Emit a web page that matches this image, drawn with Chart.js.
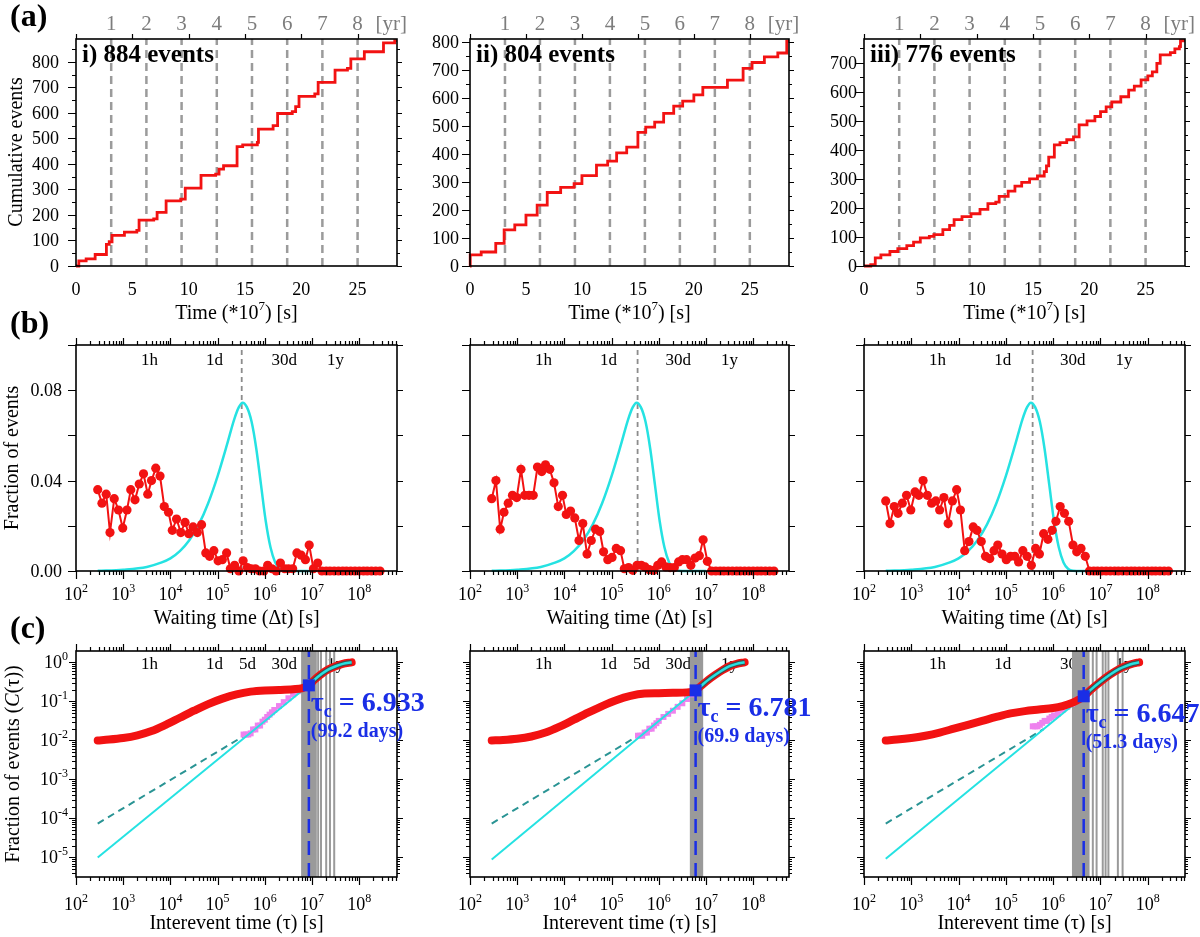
<!DOCTYPE html>
<html>
<head>
<meta charset="utf-8">
<script src="https://cdn.jsdelivr.net/npm/chart.js@4.4.1/dist/chart.umd.min.js"></script>
<style>
  html, body { margin: 0; padding: 0; background: #fff; }
  #fig { position: relative; width: 1200px; height: 937px; overflow: hidden; }
  #fig canvas { position: absolute; left: 0; top: 0; }
</style>
</head>
<body>
<div id="fig"></div>
<script>
// ---------- (a) cumulative events, time in 1e7 s ----------
const cumTime1 = [0, 0.25, 0.9, 1.7, 2.7, 2.95, 3.2, 4.3, 5.4, 5.6, 6.9, 7.2, 8.0, 9.3, 9.7, 11.1, 12.4, 12.7, 13.1, 14.3, 14.8, 16.1, 16.2, 17.5, 17.9, 19.2, 19.5, 19.8, 21.2, 21.5, 23.0, 24.1, 24.4, 25.6, 27.3, 28.3, 28.5];
const cumCount1 = [0, 20, 28, 45, 85, 95, 120, 133, 140, 180, 185, 210, 255, 262, 305, 355, 360, 380, 393, 468, 475, 485, 537, 550, 598, 605, 625, 665, 675, 720, 768, 775, 812, 840, 875, 884, 884];
const cumTime2 = [0, 0.02, 1.0, 2.3, 3.05, 4.0, 5.0, 6.0, 6.9, 8.1, 9.3, 10.0, 11.3, 12.3, 13.1, 14.0, 15.0, 15.7, 16.5, 17.3, 18.2, 19.0, 20.0, 20.8, 23.0, 24.4, 25.2, 26.3, 27.5, 28.3, 28.5];
const cumCount2 = [0, 40, 50, 81, 129, 147, 182, 218, 263, 281, 295, 323, 361, 375, 405, 425, 478, 497, 515, 546, 572, 590, 612, 639, 665, 707, 728, 748, 762, 804, 804];
const cumTime3 = [0, 0.6, 1.0, 1.5, 2.3, 3.0, 3.8, 4.4, 5.0, 5.8, 6.2, 7.0, 7.6, 8.0, 8.7, 9.5, 10.3, 11.0, 11.7, 12.0, 12.8, 13.4, 14.0, 14.7, 15.4, 16.0, 16.2, 16.4, 16.9, 17.4, 18.0, 18.6, 19.1, 19.8, 20.5, 21.0, 21.5, 22.0, 22.8, 23.5, 24.0, 24.6, 25.2, 25.6, 26.0, 26.3, 27.2, 27.6, 28.0, 28.1, 28.5];
const cumCount3 = [0, 5, 28, 38, 50, 60, 70, 82, 97, 102, 108, 125, 140, 160, 170, 180, 195, 215, 220, 240, 258, 275, 288, 300, 310, 325, 345, 375, 417, 425, 435, 445, 486, 500, 515, 532, 548, 565, 583, 606, 620, 641, 655, 669, 698, 727, 735, 748, 756, 776, 776];
const cumMax = [890, 812, 782];
const eventLabels = ['i) 884 events', 'ii) 804 events', 'iii) 776 events'];
const cumTimeTicks = [0, 5, 10, 15, 20, 25];
const cumTicks1 = [0, 100, 200, 300, 400, 500, 600, 700, 800];
const cumTicks3 = [0, 100, 200, 300, 400, 500, 600, 700];
const yearTicks = [1, 2, 3, 4, 5, 6, 7, 8];
const yearPos = [3.125, 6.25, 9.375, 12.5, 15.625, 18.75, 21.875, 25];

// ---------- (b) waiting time distribution (log10 of seconds) ----------
const waitExp = [2.46, 2.55, 2.64, 2.72, 2.81, 2.90, 2.99, 3.08, 3.16, 3.25, 3.34, 3.43, 3.52, 3.60, 3.69, 3.78, 3.87, 3.96, 4.04, 4.13, 4.22, 4.31, 4.39, 4.48, 4.57, 4.66, 4.75, 4.83, 4.92, 5.01, 5.10, 5.19, 5.27, 5.36, 5.45, 5.54, 5.63, 5.71, 5.80, 5.89, 5.98, 6.06, 6.15, 6.24, 6.33, 6.42, 6.50, 6.59, 6.68, 6.77, 6.86, 6.94, 7.03, 7.12, 7.21, 7.30, 7.38, 7.47, 7.56, 7.65, 7.73, 7.82, 7.91, 8.00, 8.09, 8.17, 8.26, 8.35, 8.44];
const frac1 = [0.036, 0.030, 0.034, 0.017, 0.032, 0.027, 0.019, 0.027, 0.036, 0.0315, 0.0385, 0.043, 0.034, 0.040, 0.0455, 0.042, 0.0285, 0.026, 0.018, 0.023, 0.017, 0.0215, 0.0165, 0.0195, 0.017, 0.0205, 0.008, 0.0065, 0.009, 0.0045, 0.005, 0.008, 0.001, 0.0025, 0, 0.0045, 0.0015, 0.001, 0.001, 0, 0, 0.0025, 0.001, 0, 0.0035, 0.001, 0.001, 0.001, 0.008, 0.007, 0.005, 0.0115, 0.001, 0.0035, 0, 0, 0, 0, 0, 0, 0, 0, 0, 0, 0, 0, 0, 0, 0];
const frac2 = [0.032, 0.040, 0.0185, 0.026, 0.030, 0.0335, 0.0325, 0.045, 0.0335, 0.0335, 0.0335, 0.046, 0.044, 0.047, 0.045, 0.039, 0.0285, 0.0335, 0.025, 0.0265, 0.0235, 0.0135, 0.021, 0.0075, 0.0135, 0.0185, 0.0175, 0.0085, 0.005, 0.006, 0.010, 0.009, 0.001, 0.0015, 0.0003, 0.0025, 0.0025, 0.0018, 0.0006, 0.0003, 0.0025, 0.004, 0.0018, 0.0015, 0.0015, 0.004, 0.005, 0.005, 0.0025, 0.0057, 0.0068, 0.0138, 0.0043, 0, 0, 0, 0, 0, 0, 0, 0, 0, 0, 0, 0, 0, 0, 0, 0];
const frac3 = [0.031, 0.021, 0.0285, 0.0255, 0.030, 0.0335, 0.027, 0.035, 0.0335, 0.040, 0.0335, 0.030, 0.031, 0.027, 0.0325, 0.021, 0.031, 0.036, 0.027, 0.009, 0.013, 0.0195, 0.018, 0.013, 0.0065, 0.0055, 0.009, 0.0115, 0.0075, 0.005, 0.0065, 0.0065, 0.004, 0.009, 0.0065, 0.0025, 0.010, 0.0075, 0.0165, 0.014, 0.018, 0.022, 0.0285, 0.0255, 0.022, 0.0115, 0.0085, 0.010, 0.0065, 0, 0, 0, 0, 0, 0, 0, 0, 0, 0, 0, 0, 0, 0, 0, 0, 0, 0, 0, 0];
const poissonExp = [2.46, 3.0, 3.5, 3.8, 4.0, 4.2, 4.4, 4.6, 4.8, 5.0, 5.2, 5.35, 5.45, 5.53, 5.62, 5.72, 5.82, 5.92, 6.02, 6.12, 6.22, 6.32, 6.42, 6.6, 7.0];
const poissonFrac = [0.0001, 0.0006, 0.0018, 0.0037, 0.0056, 0.0088, 0.0136, 0.0205, 0.030, 0.042, 0.056, 0.067, 0.0725, 0.0745, 0.0725, 0.066, 0.054, 0.038, 0.022, 0.0105, 0.0038, 0.0009, 0.0001, 0, 0];
const meanWait = [3.24e5, 3.56e5, 3.69e5];
const fracTicks = [0, 0.04, 0.08];
const fracTickText = ['0.00', '0.04', '0.08'];
const fracAllTicks = [0, 0.02, 0.04, 0.06, 0.08, 0.1];

// ---------- (c) cumulative fraction C(tau), log10 values ----------
const redX1 = [2.46, 2.7, 3.0, 3.3, 3.6, 3.9, 4.2, 4.5, 4.8, 5.1, 5.4, 5.7, 6.0, 6.3, 6.6, 6.8, 6.93, 7.05, 7.2, 7.35, 7.5, 7.65, 7.84];
const redY1 = [-2.0, -1.98, -1.94, -1.87, -1.76, -1.6, -1.42, -1.24, -1.07, -0.93, -0.82, -0.75, -0.72, -0.71, -0.69, -0.66, -0.59, -0.45, -0.3, -0.18, -0.1, -0.04, 0];
const redX2 = [2.46, 2.7, 3.0, 3.3, 3.6, 3.9, 4.2, 4.5, 4.8, 5.1, 5.4, 5.7, 6.0, 6.3, 6.6, 6.78, 6.9, 7.05, 7.2, 7.35, 7.5, 7.65, 7.82];
const redY2 = [-2.0, -1.99, -1.96, -1.9, -1.8, -1.65, -1.47, -1.29, -1.12, -0.97, -0.86, -0.8, -0.79, -0.78, -0.77, -0.72, -0.6, -0.45, -0.32, -0.2, -0.1, -0.04, 0];
const redX3 = [2.46, 2.7, 3.0, 3.3, 3.6, 3.9, 4.2, 4.5, 4.8, 5.1, 5.4, 5.7, 6.0, 6.2, 6.4, 6.55, 6.65, 6.8, 7.0, 7.2, 7.4, 7.55, 7.7, 7.82];
const redY3 = [-2.0, -1.98, -1.94, -1.88, -1.8, -1.7, -1.6, -1.5, -1.4, -1.31, -1.25, -1.21, -1.17, -1.12, -1.04, -0.95, -0.87, -0.7, -0.5, -0.32, -0.17, -0.09, -0.03, 0];
const cyanX1 = [2.46, 6.93, 7.05, 7.2, 7.35, 7.5, 7.65, 7.84];
const cyanY1 = [-5.0, -0.59, -0.45, -0.3, -0.18, -0.1, -0.04, 0];
const cyanX2 = [2.46, 6.78, 6.9, 7.05, 7.2, 7.35, 7.5, 7.65, 7.82];
const cyanY2 = [-5.05, -0.72, -0.6, -0.45, -0.32, -0.2, -0.1, -0.04, 0];
const cyanX3 = [2.46, 6.647, 6.8, 7.0, 7.2, 7.4, 7.55, 7.7, 7.82];
const cyanY3 = [-5.03, -0.87, -0.7, -0.5, -0.32, -0.17, -0.09, -0.03, 0];
const tealX = [2.46, 5.8];
const tealY = [-4.13, -1.71];
const violetX1 = [5.55, 5.6, 5.65, 5.7, 5.75, 5.8, 5.85, 5.9, 5.95, 6.0, 6.05, 6.1, 6.15, 6.2, 6.3, 6.4, 6.5, 6.6, 6.7, 6.8, 6.88];
const violetY1 = [-1.85, -1.85, -1.85, -1.82, -1.72, -1.72, -1.62, -1.62, -1.52, -1.47, -1.4, -1.34, -1.28, -1.22, -1.12, -1.02, -0.92, -0.82, -0.74, -0.67, -0.62];
const violetX2 = [5.56, 5.6, 5.65, 5.7, 5.75, 5.8, 5.85, 5.9, 5.95, 6.0, 6.1, 6.2, 6.3, 6.4, 6.5, 6.6, 6.7];
const violetY2 = [-1.88, -1.88, -1.88, -1.8, -1.8, -1.7, -1.7, -1.62, -1.56, -1.5, -1.4, -1.32, -1.24, -1.14, -1.05, -0.94, -0.82];
const violetX3 = [5.57, 5.62, 5.67, 5.72, 5.77, 5.82, 5.87, 5.92, 5.97, 6.02, 6.1, 6.2, 6.3, 6.4, 6.5, 6.58];
const violetY3 = [-1.64, -1.64, -1.64, -1.6, -1.55, -1.5, -1.5, -1.44, -1.4, -1.36, -1.32, -1.22, -1.14, -1.06, -0.98, -0.92];
const grayX1 = [6.79, 6.81, 6.83, 6.85, 6.87, 6.89, 6.91, 6.93, 6.95, 6.97, 6.99, 7.01, 7.03, 7.05, 7.08, 7.13, 7.19, 7.30, 7.38, 7.47];
const grayX2 = [6.68, 6.70, 6.72, 6.74, 6.76, 6.78, 6.80, 6.82, 6.84, 6.86, 6.88, 6.90, 6.92];
const grayX3 = [6.42, 6.45, 6.48, 6.51, 6.54, 6.57, 6.60, 6.63, 6.66, 6.69, 6.72, 6.75, 6.84, 6.92, 7.05, 7.11, 7.17, 7.37, 7.47];
const tauC = [6.933, 6.781, 6.647];
const cAtTau = [-0.59, -0.72, -0.87];
const tauDays = ['99.2', '69.9', '51.3'];
const cExpTicks = [0, -1, -2, -3, -4, -5];
const timeDecades = [2, 3, 4, 5, 6, 7, 8];
const markNames = ['1h', '1d', '5d', '30d', '1y'];
const markSecs = [3600, 86400, 432000, 2592000, 31536000];

// ---------- layout ----------
const W = 1200, H = 937;
const colL = [76, 470, 864], colR = [397, 789, 1185];
const logXMax = [8.8, 8.76, 8.79];
const cLogMin = -5.5, cLogMax = 0.29;
const SERIF = '"Liberation Serif", "Times New Roman", serif';
const F_TICK = '18px ' + SERIF, F_SUP = '12px ' + SERIF, F_TITLE = '20px ' + SERIF;
const RED = '#f21212', CYAN = '#25e2e2', BLUE = '#1a2ee6', GRAY = '#9a9a9a';
const pow10 = e => Math.pow(10, e);
const specs = {};
const fig = document.getElementById('fig');

function xy(xs, ys, fx, fy) {
  return xs.map((x, k) => ({ x: fx ? fx(x) : x, y: fy ? fy(ys[k]) : ys[k] }));
}
function vlines(xs, y0, y1) {
  const pts = [];
  xs.forEach(x => pts.push({ x, y: y0 }, { x, y: y1 }, { x, y: null }));
  return pts;
}
function logMinor(exps) {
  const out = [];
  exps.forEach(e => { for (let k = 2; k <= 9; k++) out.push(k * pow10(e)); });
  return out;
}

function drawRich(ctx, segs, x, y, align, color) {
  let w = 0;
  const ws = segs.map(s => { ctx.font = s.font; const m = ctx.measureText(s.t).width; w += m; return m; });
  let cx = align === 'center' ? x - w / 2 : align === 'right' ? x - w : x;
  ctx.textAlign = 'left';
  ctx.textBaseline = 'alphabetic';
  if (color) ctx.fillStyle = color;
  segs.forEach((s, k) => { ctx.font = s.font; ctx.fillText(s.t, cx, y + (s.dy || 0)); cx += ws[k]; });
}

function drawTicks(chart, t) {
  const ctx = chart.ctx, a = chart.chartArea;
  const horiz = t.side === 'top' || t.side === 'bottom';
  const sc = horiz ? chart.scales.x : chart.scales.y;
  ctx.beginPath();
  t.values.forEach(v => {
    if (v < sc.min * (1 - 1e-9) || v > sc.max * (1 + 1e-9)) return;
    const p = Math.round(sc.getPixelForValue(v)) + 0.5;
    if (t.side === 'bottom') { ctx.moveTo(p, a.bottom); ctx.lineTo(p, a.bottom + t.len); }
    if (t.side === 'top') { ctx.moveTo(p, a.top); ctx.lineTo(p, a.top - t.len); }
    if (t.side === 'left') { ctx.moveTo(a.left, p); ctx.lineTo(a.left - t.len, p); }
    if (t.side === 'right') { ctx.moveTo(a.right, p); ctx.lineTo(a.right + t.len, p); }
  });
  ctx.stroke();
}

function drawLabels(chart, set) {
  const ctx = chart.ctx;
  const horiz = set.side === 'top' || set.side === 'bottom';
  const sc = horiz ? chart.scales.x : chart.scales.y;
  const font = set.font || F_TICK;
  set.items.forEach(it => {
    const p = sc.getPixelForValue(it.v) + (it.dx || 0);
    const x = horiz ? p : set.x;
    const y = horiz ? set.y : p + (set.dy || 0);
    const align = it.align || (horiz ? 'center' : 'right');
    const segs = it.exp !== undefined
      ? [{ t: '10', font }, { t: String(it.exp), font: F_SUP, dy: -8 }]
      : [{ t: it.text, font }];
    drawRich(ctx, segs, x, y, align, set.color || '#000');
  });
}

function drawText(ctx, t) {
  ctx.save();
  ctx.translate(t.x, t.y);
  if (t.rotate) ctx.rotate(t.rotate);
  drawRich(ctx, t.segs, 0, 0, t.align || 'center', t.color || '#000');
  ctx.restore();
}

const axisPlugin = {
  id: 'axisFrame',
  beforeDatasetsDraw(chart) {
    const s = specs[chart.canvas.id];
    if (!s.inner) return;
    chart.ctx.save();
    drawLabels(chart, s.inner);
    chart.ctx.restore();
  },
  afterDatasetsDraw(chart) {
    const s = specs[chart.canvas.id];
    const ctx = chart.ctx, a = chart.chartArea;
    ctx.save();
    ctx.strokeStyle = '#000';
    ctx.lineWidth = 1.6;
    ctx.strokeRect(a.left, a.top, a.right - a.left, a.bottom - a.top);
    ctx.lineWidth = 1.2;
    s.ticks.forEach(t => drawTicks(chart, t));
    s.labels.forEach(set => drawLabels(chart, set));
    (s.texts || []).forEach(t => drawText(ctx, t));
    if (s.tau) {
      const x = chart.scales.x.getPixelForValue(pow10(s.tau.x)) + 2;
      const y = chart.scales.y.getPixelForValue(pow10(s.tau.y)) + 26;
      const F_TAU = 'bold 28px ' + SERIF;
      drawRich(ctx, [{ t: 'τ', font: F_TAU }, { t: 'c', font: 'bold 18px ' + SERIF, dy: 6 },
        { t: ' = ' + s.tau.x.toFixed(3), font: F_TAU }], x, y, 'left', BLUE);
      drawRich(ctx, [{ t: '(' + s.tau.days + ' days)', font: 'bold 20px ' + SERIF }], x, y + 26, 'left', BLUE);
    }
    ctx.restore();
  }
};

function makeChart(id, area, xScale, yScale, datasets, spec) {
  const cv = document.createElement('canvas');
  cv.id = id; cv.width = W; cv.height = H;
  cv.style.width = W + 'px'; cv.style.height = H + 'px';
  fig.appendChild(cv);
  specs[id] = spec;
  datasets.forEach((d, k) => {
    d.order = k;
    if (d.pointRadius === undefined) d.pointRadius = 0;
    if (d.clip === undefined) d.clip = 0;
  });
  return new Chart(cv, {
    type: 'line',
    data: { datasets },
    options: {
      responsive: false, animation: false, devicePixelRatio: 1, events: [],
      layout: { padding: { left: area[0], top: area[1], right: W - area[2], bottom: H - area[3] } },
      plugins: { legend: { display: false }, tooltip: { enabled: false } },
      scales: {
        x: Object.assign({ display: false, bounds: 'data' }, xScale),
        y: Object.assign({ display: false, bounds: 'data' }, yScale)
      }
    },
    plugins: [axisPlugin]
  });
}

function yTitle(x, y, segs) {
  return { x, y, rotate: -Math.PI / 2, segs, align: 'center' };
}
function letter(txt, y) {
  return { x: 10, y, align: 'left', segs: [{ t: txt, font: 'bold 32px ' + SERIF }] };
}

// ---------- row (a) ----------
const cumTimes = [cumTime1, cumTime2, cumTime3];
const cumCounts = [cumCount1, cumCount2, cumCount3];
const cumTicks = [cumTicks1, cumTicks1, cumTicks3];
const cumLabRight = [59, 459, 857];
for (let i = 0; i < 3; i++) {
  const area = [colL[i], 39, colR[i], 266];
  const ymax = cumMax[i];
  const minor = cumTicks[i].map(v => v + 50);
  const texts = [
    { x: colL[i] + 6, y: 62, align: 'left', segs: [{ t: eventLabels[i], font: 'bold 25px ' + SERIF }] },
    { x: (colL[i] + colR[i]) / 2, y: 319, segs: [{ t: 'Time (*10', font: F_TITLE }, { t: '7', font: '13px ' + SERIF, dy: -9 }, { t: ') [s]', font: F_TITLE }] }
  ];
  if (i === 0) {
    texts.push(yTitle(22, 152, [{ t: 'Cumulative events', font: F_TITLE }]));
    texts.push(letter('(a)', 26));
  }
  const yearItems = yearPos.map((v, k) => ({ v, text: String(yearTicks[k]) }));
  yearItems.push({ v: yearPos[7], text: '[yr]', dx: 18, align: 'left' });
  makeChart('cum' + i, area,
    { type: 'linear', min: 0, max: 28.5 },
    { type: 'linear', min: 0, max: ymax },
    [
      { data: xy(cumTimes[i], cumCounts[i]), borderColor: RED, borderWidth: 2.8, stepped: true, clip: 3 },
      { data: vlines(yearPos, 0, ymax), borderColor: '#9b9b9b', borderWidth: 2.5, borderDash: [8, 5] }
    ],
    {
      ticks: [
        { side: 'top', values: cumTimeTicks, len: 5 },
        { side: 'left', values: cumTicks[i], len: 8 }, { side: 'left', values: minor, len: 4 },
        { side: 'right', values: cumTicks[i], len: 5 }, { side: 'right', values: minor, len: 3 }
      ],
      labels: [
        { side: 'bottom', y: 295, items: cumTimeTicks.map(v => ({ v, text: String(v) })) },
        { side: 'left', x: cumLabRight[i], dy: 6, items: cumTicks[i].map(v => ({ v, text: String(v) })) },
        { side: 'top', y: 30, font: '21px ' + SERIF, color: '#7d7d7d', items: yearItems }
      ],
      texts
    });
}

// ---------- row (b) ----------
const fracs = [frac1, frac2, frac3];
for (let i = 0; i < 3; i++) {
  const area = [colL[i], 345, colR[i], 571];
  const texts = [
    { x: (colL[i] + colR[i]) / 2, y: 624, segs: [{ t: 'Waiting time (Δt) [s]', font: F_TITLE }] }
  ];
  const labels = [
    { side: 'bottom', y: 600, items: timeDecades.map(e => ({ v: pow10(e), exp: e })) }
  ];
  if (i === 0) {
    texts.push(yTitle(18, 458, [{ t: 'Fraction of events', font: F_TITLE }]));
    texts.push(letter('(b)', 333));
    labels.push({ side: 'left', x: 62, dy: 6, items: fracTicks.map((v, k) => ({ v, text: fracTickText[k] })) });
  }
  makeChart('wait' + i, area,
    { type: 'logarithmic', min: 100, max: pow10(logXMax[i]) },
    { type: 'linear', min: 0, max: 0.1 },
    [
      { data: xy(waitExp, fracs[i], pow10), borderColor: RED, borderWidth: 2, pointRadius: 4.6,
        pointBackgroundColor: RED, pointBorderWidth: 0, clip: 8 },
      { data: xy(poissonExp, poissonFrac, pow10), borderColor: CYAN, borderWidth: 2.5, cubicInterpolationMode: 'monotone', clip: 2 },
      { data: vlines([meanWait[i]], 0, 0.1), borderColor: '#8c8c8c', borderWidth: 1.8, borderDash: [5, 4] }
    ],
    {
      ticks: [
        { side: 'bottom', values: timeDecades.map(pow10), len: 8 }, { side: 'bottom', values: logMinor(timeDecades), len: 4 },
        { side: 'top', values: timeDecades.map(pow10), len: 7 }, { side: 'top', values: logMinor(timeDecades), len: 4 },
        { side: 'left', values: fracAllTicks, len: 8 }, { side: 'right', values: fracAllTicks, len: 6 }
      ],
      labels,
      inner: { side: 'top', y: 365, font: '17px ' + SERIF,
        items: markNames.map((n, k) => ({ v: markSecs[k], text: n })).filter(it => it.text !== '5d') },
      texts
    });
}

// ---------- row (c) ----------
const redXs = [redX1, redX2, redX3], redYs = [redY1, redY2, redY3];
const cyanXs = [cyanX1, cyanX2, cyanX3], cyanYs = [cyanY1, cyanY2, cyanY3];
const violetXs = [violetX1, violetX2, violetX3], violetYs = [violetY1, violetY2, violetY3];
const grayXs = [grayX1, grayX2, grayX3];
for (let i = 0; i < 3; i++) {
  const area = [colL[i], 651, colR[i], 877];
  const cMin = pow10(cLogMin), cMax = pow10(cLogMax);
  const texts = [
    { x: (colL[i] + colR[i]) / 2, y: 929, segs: [{ t: 'Interevent time (τ) [s]', font: F_TITLE }] }
  ];
  const labels = [
    { side: 'bottom', y: 910, items: timeDecades.map(e => ({ v: pow10(e), exp: e })) }
  ];
  if (i === 0) {
    texts.push(yTitle(19, 764, [{ t: 'Fraction of events (', font: F_TITLE }, { t: 'C', font: 'italic 20px ' + SERIF }, { t: '(τ))', font: F_TITLE }]));
    texts.push(letter('(c)', 638));
    labels.push({ side: 'left', x: 68, dy: 6, items: cExpTicks.map(e => ({ v: pow10(e), exp: e })) });
  }
  const cyanPre = xy(cyanXs[i].slice(0, 2), cyanYs[i].slice(0, 2), pow10, pow10);
  const cyanPost = xy(cyanXs[i].slice(1), cyanYs[i].slice(1), pow10, pow10);
  const marks = markNames.map((n, k) => ({ v: markSecs[k], text: n })).filter(it => i < 2 || it.text !== '5d');
  const cMajor = cExpTicks.map(pow10), cMinor = logMinor([-6, -5, -4, -3, -2, -1, 0]);
  makeChart('ctau' + i, area,
    { type: 'logarithmic', min: 100, max: pow10(logXMax[i]) },
    { type: 'logarithmic', min: cMin, max: cMax },
    [
      { data: [{ x: pow10(tauC[i]), y: pow10(cAtTau[i]) }], showLine: false, pointStyle: 'rect', pointRadius: 8.5,
        pointBackgroundColor: BLUE, pointBorderWidth: 0, clip: 10 },
      { data: vlines([pow10(tauC[i])], cMin, cMax), borderColor: BLUE, borderWidth: 2.5, borderDash: [14, 8] },
      { data: cyanPost, borderColor: CYAN, borderWidth: 2.5, cubicInterpolationMode: 'monotone' },
      { data: cyanPost, borderColor: '#4a4a4a', borderWidth: 5, cubicInterpolationMode: 'monotone' },
      { data: xy(redXs[i], redYs[i], pow10, pow10), borderColor: RED, borderWidth: 8, borderCapStyle: 'round',
        borderJoinStyle: 'round', cubicInterpolationMode: 'monotone', clip: 6 },
      { data: cyanPre, borderColor: CYAN, borderWidth: 2 },
      { data: xy(violetXs[i], violetYs[i], pow10, pow10), showLine: false, pointStyle: 'rect', pointRadius: 4.2,
        pointBackgroundColor: '#ee82ee', pointBorderWidth: 0 },
      { data: xy(tealX, tealY, pow10, pow10), borderColor: '#2a9494', borderWidth: 2, borderDash: [7, 5] },
      { data: vlines(grayXs[i].map(pow10), cMin, cMax), borderColor: GRAY, borderWidth: 2 }
    ],
    {
      ticks: [
        { side: 'bottom', values: timeDecades.map(pow10), len: 8 }, { side: 'bottom', values: logMinor(timeDecades), len: 4 },
        { side: 'top', values: timeDecades.map(pow10), len: 7 }, { side: 'top', values: logMinor(timeDecades), len: 4 },
        { side: 'left', values: cMajor, len: 7 }, { side: 'left', values: cMinor, len: 4 },
        { side: 'right', values: cMajor, len: 6 }, { side: 'right', values: cMinor, len: 3 }
      ],
      labels,
      inner: { side: 'top', y: 669, font: '17px ' + SERIF, items: marks },
      tau: { x: tauC[i], y: cAtTau[i], days: tauDays[i] },
      texts
    });
}
</script>
</body>
</html>
